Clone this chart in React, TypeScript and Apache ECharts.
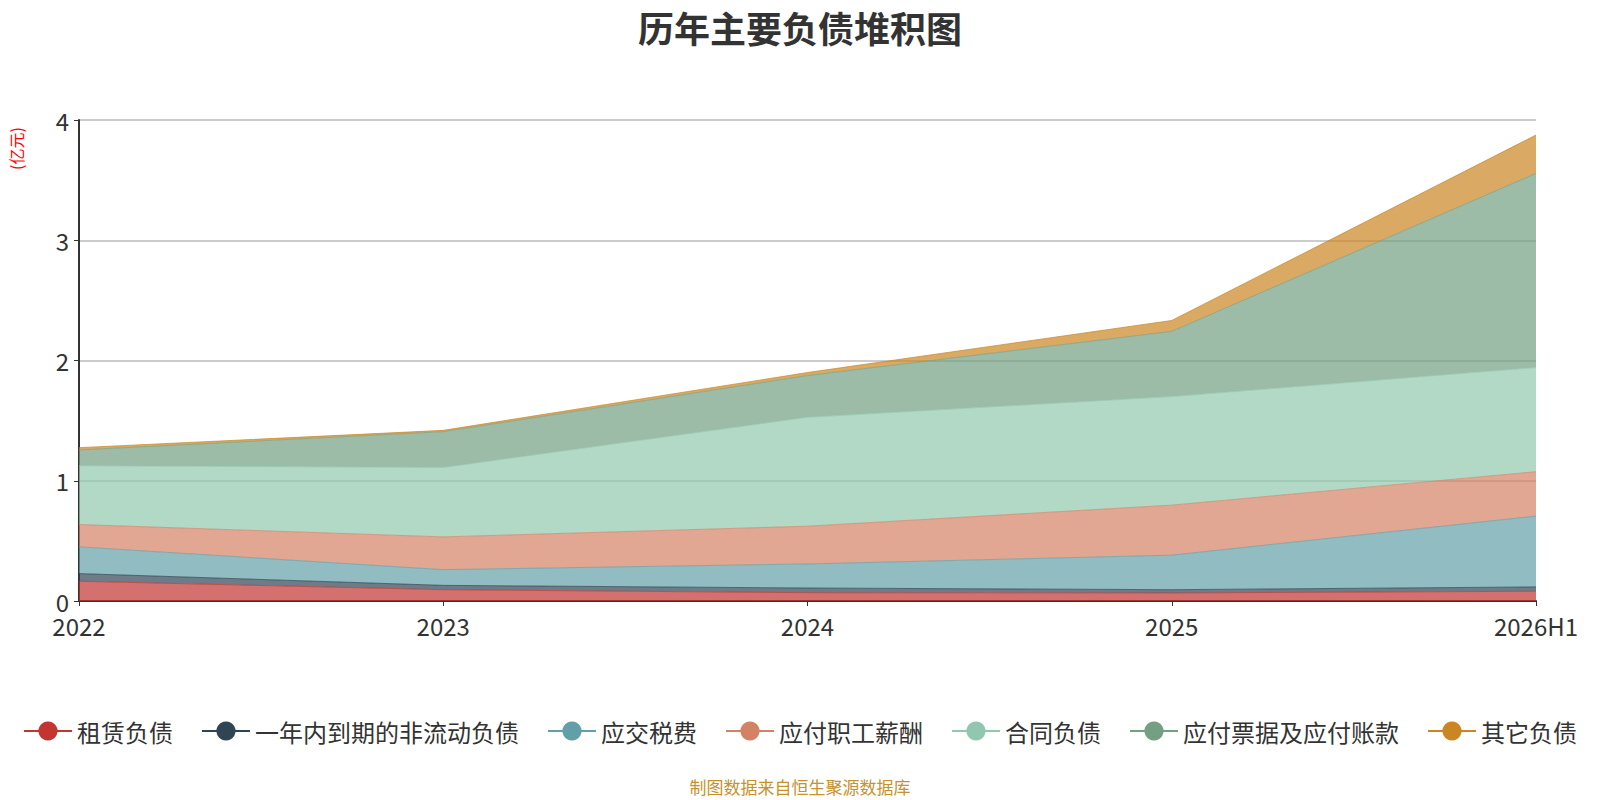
import { useRef, useEffect } from "react";
import * as echarts from "echarts";

const categories = ["2022", "2023", "2024", "2025", "2026H1"];
const seriesNames = [
  "租赁负债",
  "一年内到期的非流动负债",
  "应交税费",
  "应付职工薪酬",
  "合同负债",
  "应付票据及应付账款",
  "其它负债",
];
const colors = ["#c23531", "#2f4554", "#61a0a8", "#d48265", "#91c7ae", "#749f83", "#ca8622"];
// 单位：亿元
const leaseDebt = [0.164, 0.094, 0.069, 0.067, 0.081];
const dueWithinYear = [0.064, 0.036, 0.039, 0.027, 0.036];
const taxPayable = [0.222, 0.131, 0.2, 0.287, 0.589];
const salaryPayable = [0.186, 0.272, 0.314, 0.416, 0.369];
const contractDebt = [0.489, 0.578, 0.906, 0.903, 0.867];
const billsPayable = [0.131, 0.297, 0.347, 0.542, 1.614];
const otherDebt = [0.019, 0.011, 0.025, 0.091, 0.319];
const seriesValues = [
  leaseDebt,
  dueWithinYear,
  taxPayable,
  salaryPayable,
  contractDebt,
  billsPayable,
  otherDebt,
];

const FONT = "'Noto Sans CJK SC', 'Noto Sans', sans-serif";

const App = () => {
  const chartRef = useRef<HTMLDivElement>(null);

  useEffect(() => {
    document.body.style.margin = "0";
    if (!chartRef.current) return;
    const myChart = echarts.init(chartRef.current, null, { renderer: "svg" });
    const option: any = {
      animation: false,
      color: colors,
      textStyle: { fontFamily: FONT },
      title: {
        text: "历年主要负债堆积图",
        left: "center",
        top: 4,
        textStyle: { fontSize: 36, fontWeight: "bold", color: "#333", fontFamily: FONT },
      },
      legend: {
        bottom: 52,
        left: "center",
        itemWidth: 48,
        itemHeight: 24,
        itemGap: 28,
        lineStyle: { width: 2, opacity: 1 },
        textStyle: { fontSize: 24, color: "#333", fontFamily: FONT },
        data: seriesNames,
      },
      grid: { left: 79, right: 64, top: 120, bottom: 199 },
      xAxis: {
        type: "category",
        boundaryGap: false,
        data: categories,
        axisLine: { lineStyle: { color: "#333", width: 2 } },
        axisTick: { show: true, lineStyle: { color: "#333" } },
        axisLabel: { fontSize: 24, color: "#333", margin: 12 },
      },
      yAxis: {
        type: "value",
        min: 0,
        max: 4,
        interval: 1,
        axisLine: { show: true, lineStyle: { color: "#333", width: 2 } },
        axisTick: { show: true, lineStyle: { color: "#333" } },
        axisLabel: { fontSize: 24, color: "#333", margin: 10 },
        splitLine: { lineStyle: { color: "#ccc", width: 2 } },
      },
      graphic: [
        {
          type: "text",
          x: 8,
          y: 170,
          rotation: Math.PI / 2,
          style: { text: "(亿元)", fill: "#ff0000", font: `16px ${FONT}` },
        },
        {
          type: "text",
          left: "center",
          bottom: 5,
          style: { text: "制图数据来自恒生聚源数据库", fill: "#c8912a", font: `17px ${FONT}` },
        },
      ],
      series: seriesNames.map((name, i) => ({
        name,
        type: "line",
        stack: "total",
        data: seriesValues[i],
        symbol: "circle",
        symbolSize: 8,
        showSymbol: false,
        lineStyle: { width: 1, opacity: 0.7 },
        areaStyle: { opacity: 0.7 },
      })),
    };
    myChart.setOption(option);
    return () => {
      myChart.dispose();
    };
  }, []);

  return <div ref={chartRef} style={{ width: 1600, height: 800 }}></div>;
};

export default App;
